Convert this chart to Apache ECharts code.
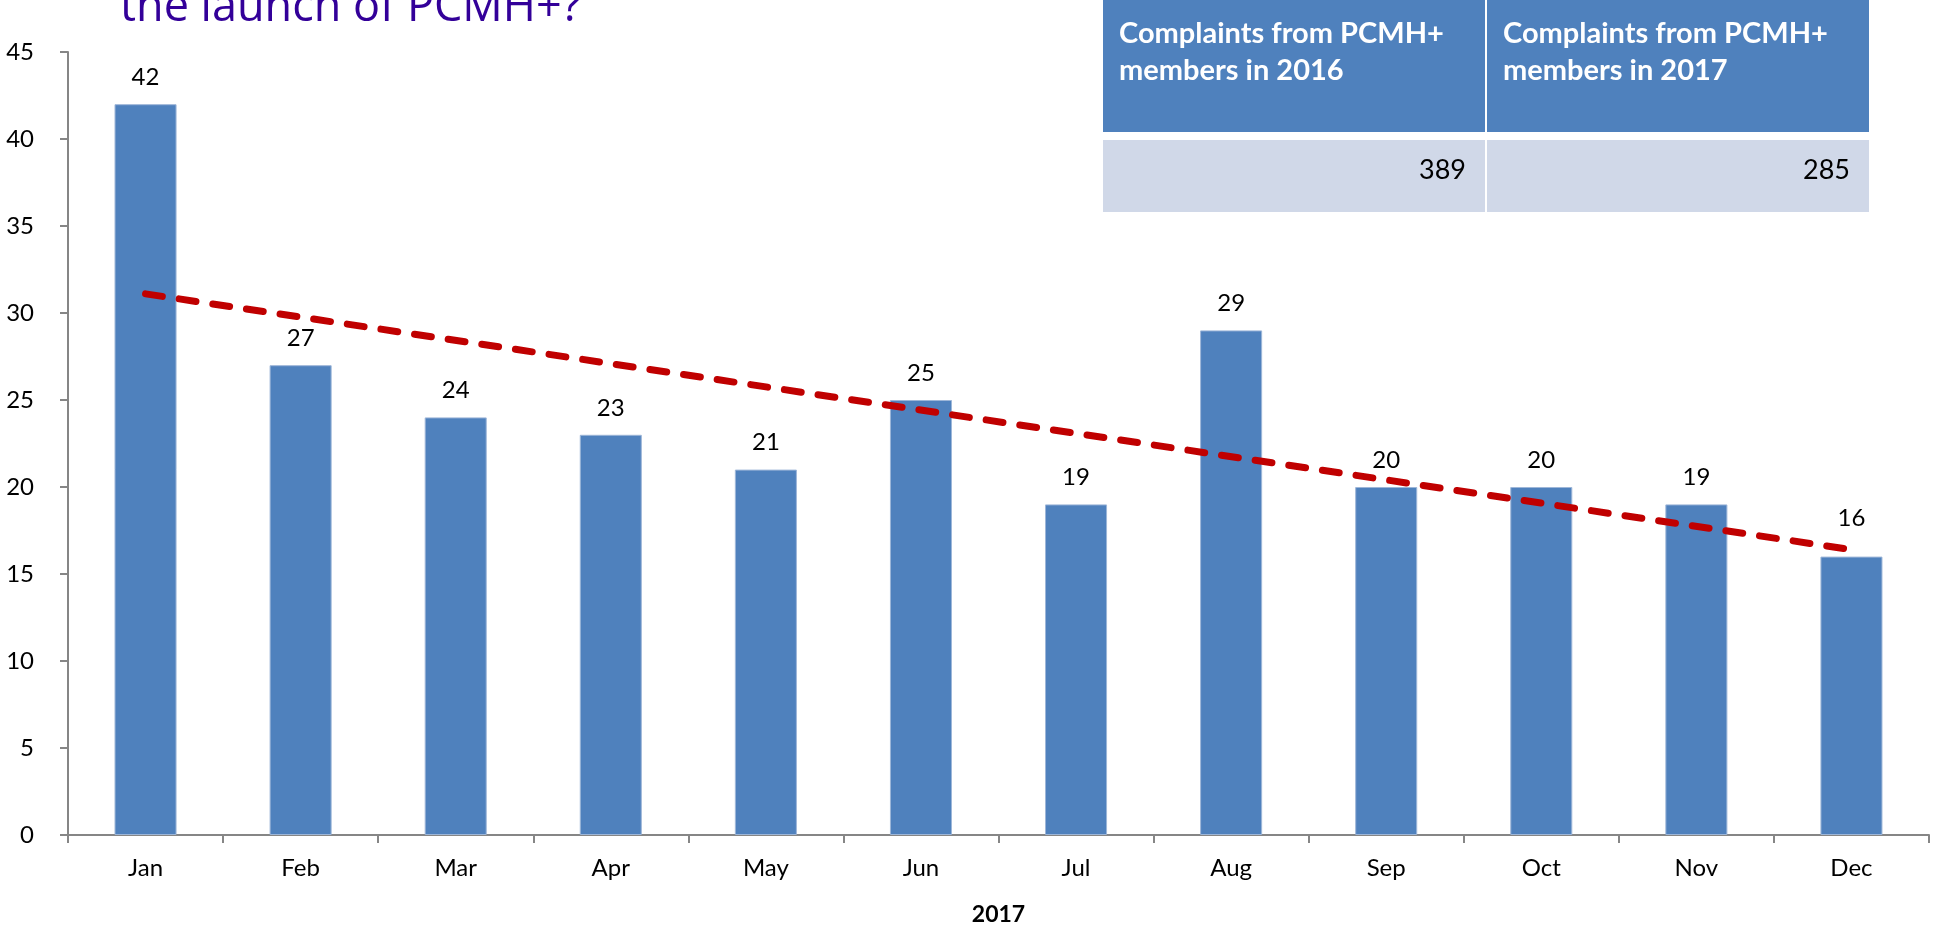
<!DOCTYPE html>
<html>
<head>
<meta charset="utf-8">
<title>Complaints 2017</title>
<script src="https://cdn.jsdelivr.net/npm/echarts@6/dist/echarts.min.js"></script>
<style>
  html, body { margin: 0; padding: 0; background: #fff; }
  #chart { width: 1936px; height: 931px; }
</style>
</head>
<body>
<div id="chart"></div>
<script>
// 数据：2017 每月投诉数
const months = ['Jan', 'Feb', 'Mar', 'Apr', 'May', 'Jun', 'Jul', 'Aug', 'Sep', 'Oct', 'Nov', 'Dec'];
const complaints = [42, 27, 24, 23, 21, 25, 19, 29, 20, 20, 19, 16];
// 趋势线两端
const trendEnds = [31.1, 16.4];
const yTicks = [0, 45, 5]; // min, max, interval
const tableHeaders = ['Complaints from PCMH+\nmembers in 2016', 'Complaints from PCMH+\nmembers in 2017'];
const tableValues = [389, 285];
const titleText = 'the launch of PCMH+?';

document.addEventListener('DOMContentLoaded', () => {
  const myChart = echarts.init(document.getElementById('chart'));
  const axisGrey = '#868686';
  const font = 'Lato, "Open Sans", sans-serif';

  // 右上角的表格
  const cols = [{ x: 1103, w: 382 }, { x: 1487, w: 382 }];
  const tableGraphics = [];
  cols.forEach((c, i) => {
    tableGraphics.push({
      type: 'rect', silent: true,
      shape: { x: c.x, y: 0, width: c.w, height: 132 },
      style: { fill: '#4F81BD' }
    });
    tableGraphics.push({
      type: 'rect', silent: true,
      shape: { x: c.x, y: 140, width: c.w, height: 72 },
      style: { fill: '#D0D8E8' }
    });
    tableGraphics.push({
      type: 'text', silent: true, x: c.x + 16, y: 15,
      style: {
        text: tableHeaders[i], fill: '#fff', font: 'bold 29px ' + font,
        lineHeight: 37, align: 'left', verticalAlign: 'top'
      }
    });
    tableGraphics.push({
      type: 'text', silent: true, x: c.x + c.w - 19, y: 170,
      style: {
        text: String(tableValues[i]), fill: '#000', font: '27px ' + font,
        align: 'right', verticalAlign: 'middle'
      }
    });
  });

  // Dec 的数据标签在原图里被往上挪了一点
  const barData = complaints.map((v, i) => (
    i === complaints.length - 1 ? { value: v, label: { distance: 26 } } : v
  ));

  const option = {
    animation: false,
    backgroundColor: '#fff',
    graphic: [
      {
        type: 'text', silent: true, left: 120, y: 31,
        style: { text: titleText, fill: '#330099', font: '45px "Open Sans", sans-serif', verticalAlign: 'bottom' }
      },
      ...tableGraphics
    ],
    grid: { left: 68, right: 7, top: 52, bottom: 85, containLabel: false },
    xAxis: {
      type: 'category',
      data: months,
      boundaryGap: true,
      name: '2017',
      nameLocation: 'middle',
      nameGap: 68,
      nameTextStyle: { fontFamily: font, fontSize: 23, fontWeight: 'bold', color: '#000' },
      axisLine: { lineStyle: { color: axisGrey, width: 2 } },
      axisTick: { show: true, length: 8, alignWithLabel: false, lineStyle: { color: axisGrey, width: 2 } },
      axisLabel: { margin: 21, fontFamily: font, fontSize: 24, color: '#000' }
    },
    yAxis: {
      type: 'value',
      min: yTicks[0], max: yTicks[1], interval: yTicks[2],
      axisLine: { show: true, lineStyle: { color: axisGrey, width: 2 } },
      axisTick: { show: true, length: 8, lineStyle: { color: axisGrey, width: 2 } },
      splitLine: { show: false },
      axisLabel: { margin: 34, fontFamily: font, fontSize: 24, color: '#000' }
    },
    series: [{
      name: 'Complaints',
      type: 'bar',
      data: barData,
      barWidth: '40%',
      itemStyle: { color: '#4F81BD', borderColor: '#9DB6D8', borderWidth: 1 },
      label: { show: true, position: 'top', distance: 15, fontFamily: font, fontSize: 24, color: '#000' },
      markLine: {
        silent: true,
        symbol: ['none', 'none'],
        label: { show: false },
        lineStyle: { color: '#C00000', width: 7, type: [17, 17], cap: 'round' },
        emphasis: { disabled: true },
        data: [[
          { coord: [months[0], trendEnds[0]] },
          { coord: [months[months.length - 1], trendEnds[1]] }
        ]]
      }
    }]
  };

  myChart.setOption(option);
  window.addEventListener('resize', () => myChart.resize());
});
</script>
</body>
</html>
